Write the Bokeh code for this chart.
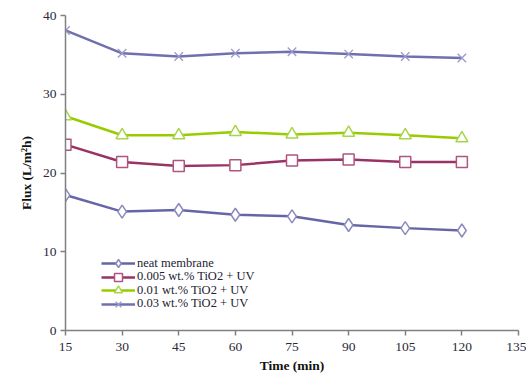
from bokeh.plotting import figure
from bokeh.models import Range1d, FixedTicker, Legend, LegendItem
from bokeh.embed import file_html
from bokeh.resources import INLINE

time_min = [15, 30, 45, 60, 75, 90, 105, 120]
neat = [17.2, 15.1, 15.3, 14.7, 14.5, 13.4, 13.0, 12.7]
tio2_0005 = [23.6, 21.4, 20.9, 21.0, 21.6, 21.7, 21.4, 21.4]
tio2_001 = [27.2, 24.8, 24.8, 25.2, 24.9, 25.1, 24.8, 24.4]
tio2_003 = [38.1, 35.2, 34.8, 35.2, 35.4, 35.1, 34.8, 34.6]
labels = ["neat membrane", "0.005 wt.% TiO2 + UV", "0.01 wt.% TiO2 + UV", "0.03 wt.% TiO2 + UV"]
x_ticks = [15, 30, 45, 60, 75, 90, 105, 120, 135]
y_ticks = [0, 10, 20, 30, 40]

p = figure(width=526, height=380, output_backend="svg", toolbar_location=None,
           x_range=Range1d(15, 135), y_range=Range1d(0, 40),
           min_border_left=65, min_border_right=8, min_border_top=15, min_border_bottom=50)
p.outline_line_color = None
p.grid.visible = False
p.background_fill_color = "white"

series = [
    (neat, "#6666a6", "#8a8abf", "diamond", 13),
    (tio2_0005, "#993366", "#b0547f", "square", 11),
    (tio2_001, "#99cc00", "#a8d64a", "triangle", 12),
    (tio2_003, "#7070ae", "#9a9acb", "x", 12),
]
legend_rows_y = [57, 43.5, 30, 16.5]
for (vals, lc, mc, mk, sz), lab, ly in zip(series, labels, legend_rows_y):
    r1 = p.line(time_min, vals, line_color=lc, line_width=2.5)
    if mk == "x":
        r2 = p.scatter(time_min, vals, marker=mk, size=sz, line_color=mc, line_width=1.3)
    else:
        r2 = p.scatter(time_min, vals, marker=mk, size=sz, line_color=mc, fill_color="white", line_width=1.5)
    leg = Legend(items=[LegendItem(label=lab, renderers=[r1, r2])], location=(36, ly),
                 padding=0, spacing=0, margin=0,
                 glyph_width=34, glyph_height=20, label_height=12, label_standoff=2,
                 label_text_font="Liberation Serif", label_text_font_size="12.5px",
                 label_text_color="#222233", border_line_color=None, background_fill_alpha=0)
    p.add_layout(leg, "center")

for ax in (p.xaxis[0], p.yaxis[0]):
    ax.axis_line_color = "#808080"
    ax.axis_line_width = 1.5
    ax.major_tick_line_color = "#808080"
    ax.major_tick_line_width = 1.5
    ax.major_tick_in = 0
    ax.major_tick_out = 5
    ax.minor_tick_line_color = None
    ax.major_label_text_font = "Liberation Serif"
    ax.major_label_text_font_size = "13.5px"
    ax.major_label_text_color = "#2a2a3a"
    ax.axis_label_text_font = "Liberation Serif"
    ax.axis_label_text_font_style = "bold"
    ax.axis_label_text_font_size = "13.5px"
    ax.axis_label_text_color = "#111111"

p.xaxis.ticker = FixedTicker(ticks=x_ticks)
p.yaxis.ticker = FixedTicker(ticks=y_ticks)
p.xaxis.axis_label = "Time (min)"
p.yaxis.axis_label = "Flux (L/m\u00b2h)"
p.xaxis.major_label_standoff = 7
p.xaxis.axis_label_standoff = 4
p.yaxis.major_label_standoff = 4
p.yaxis.axis_label_standoff = 6

open("out.html", "w").write(file_html(p, INLINE))
